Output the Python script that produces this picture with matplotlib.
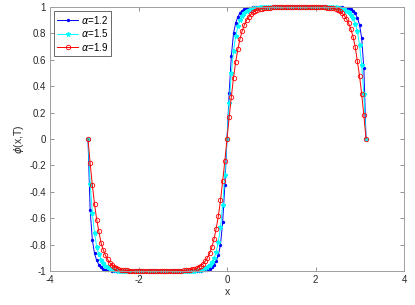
"""
phi(x,T) profiles for three fractional orders alpha
"""

import numpy as np
import matplotlib
matplotlib.use('Agg')
import matplotlib.pyplot as plt

plt.rcParams['font.family'] = ['Liberation Sans', 'DejaVu Sans']

# grid: 129 points on [-pi, pi]
x = np.linspace(-np.pi, np.pi, 129)

labels = [r'$\alpha$=1.2', r'$\alpha$=1.5', r'$\alpha$=1.9']

phi_12 = [
    0.0, -0.54, -0.765, -0.866, -0.92, -0.952, -0.97, -0.982, -0.989, -0.993,
    -0.996, -0.998, -0.999, -1.0, -1.0, -1.0, -1.0, -1.0, -1.0, -1.0,
    -1.0, -1.0, -1.0, -1.0, -1.0, -1.0, -1.0, -1.0, -1.0, -1.0,
    -1.0, -1.0, -1.0, -1.0, -1.0, -1.0, -1.0, -1.0, -1.0, -1.0,
    -1.0, -1.0, -1.0, -1.0, -1.0, -1.0, -1.0, -1.0, -1.0, -1.0, -1.0,
    -0.999, -0.998, -0.996, -0.994, -0.99, -0.983, -0.972, -0.955, -0.925, -0.88,
    -0.80, -0.63, -0.35,
    0.0,
    0.35, 0.63, 0.80, 0.88, 0.925, 0.955, 0.972, 0.983, 0.99, 0.994,
    0.996, 0.998, 0.999, 1.0, 1.0, 1.0, 1.0, 1.0, 1.0, 1.0,
    1.0, 1.0, 1.0, 1.0, 1.0, 1.0, 1.0, 1.0, 1.0, 1.0,
    1.0, 1.0, 1.0, 1.0, 1.0, 1.0, 1.0, 1.0, 1.0, 1.0,
    1.0, 1.0, 1.0, 1.0, 1.0, 1.0, 1.0, 1.0, 1.0, 1.0, 1.0,
    0.999, 0.998, 0.996, 0.993, 0.989, 0.982, 0.97, 0.952, 0.92, 0.866,
    0.765, 0.535, 0.0,
]

phi_15 = [
    0.0, -0.34, -0.56, -0.715, -0.815, -0.875, -0.915, -0.942, -0.96, -0.973,
    -0.982, -0.988, -0.992, -0.995, -0.997, -0.998, -0.999, -1.0, -1.0, -1.0,
    -1.0, -1.0, -1.0, -1.0, -1.0, -1.0, -1.0, -1.0, -1.0, -1.0,
    -1.0, -1.0, -1.0, -1.0, -1.0, -1.0, -1.0, -1.0, -1.0, -1.0,
    -1.0, -1.0, -1.0, -1.0, -1.0, -1.0, -0.999, -0.999, -0.998, -0.997,
    -0.996, -0.994, -0.991, -0.987, -0.98, -0.971, -0.957, -0.935, -0.905, -0.855,
    -0.78, -0.67, -0.50, -0.27,
    0.0,
    0.27, 0.50, 0.67, 0.78, 0.855, 0.905, 0.935, 0.957, 0.971, 0.98,
    0.987, 0.991, 0.994, 0.996, 0.997, 0.998, 0.999, 0.999, 1.0, 1.0,
    1.0, 1.0, 1.0, 1.0, 1.0, 1.0, 1.0, 1.0, 1.0, 1.0,
    1.0, 1.0, 1.0, 1.0, 1.0, 1.0, 1.0, 1.0, 1.0, 1.0,
    1.0, 1.0, 1.0, 1.0, 1.0, 1.0, 1.0, 0.999, 0.998, 0.997,
    0.995, 0.992, 0.988, 0.982, 0.973, 0.96, 0.942, 0.915, 0.875, 0.815,
    0.715, 0.56, 0.34, 0.0,
]

phi_19 = [
    0.0, -0.184, -0.35, -0.49, -0.61, -0.70, -0.785, -0.84, -0.88, -0.912,
    -0.936, -0.954, -0.967, -0.977, -0.984, -0.989, -0.992, -0.995, -0.996, -0.997,
    -0.998, -1.0, -1.0, -1.0, -1.0, -1.0, -1.0, -1.0, -1.0,
    -1.0, -1.0, -1.0, -1.0, -1.0, -1.0, -1.0, -1.0, -1.0, -1.0,
    -0.999, -0.999, -0.998, -0.998, -0.997, -0.996, -0.995, -0.993, -0.991, -0.988,
    -0.984, -0.978, -0.97, -0.96, -0.945, -0.925, -0.90, -0.865, -0.82, -0.76,
    -0.68, -0.585, -0.465, -0.32, -0.165,
    0.0,
    0.165, 0.32, 0.465, 0.585, 0.68, 0.76, 0.82, 0.865, 0.90, 0.925,
    0.945, 0.96, 0.97, 0.978, 0.984, 0.988, 0.991, 0.993, 0.995, 0.996,
    0.997, 0.998, 0.998, 0.999, 0.999, 1.0, 1.0, 1.0, 1.0, 1.0,
    1.0, 1.0, 1.0, 1.0, 1.0, 1.0, 1.0, 1.0, 1.0, 1.0,
    1.0, 1.0, 1.0, 0.998, 0.997, 0.996, 0.995, 0.992, 0.989, 0.984,
    0.977, 0.967, 0.953, 0.935, 0.91, 0.876, 0.833, 0.776, 0.70, 0.59,
    0.48, 0.34, 0.18, 0.0,
]

fig = plt.figure(figsize=(4.15, 3.05), dpi=100)
ax = fig.add_axes([0.1205, 0.1115, 0.853, 0.8655])

ax.plot(x, phi_12, '-', color='blue', marker='.', markersize=2.8, lw=0.7,
        label=labels[0], clip_on=False)
ax.plot(x, phi_15, '-', color='cyan', marker='*', markersize=3.2, lw=0.7,
        label=labels[1], clip_on=False)
ax.plot(x, phi_19, '-', color='red', marker='o', markersize=3.2, lw=0.7,
        mfc='none', mew=0.6, label=labels[2], clip_on=False)

ax.set_xlim(-4, 4)
ax.set_ylim(-1, 1)
ax.set_xticks([-4, -2, 0, 2, 4])
ax.set_yticks(np.arange(-1, 1.01, 0.2))
ax.set_yticklabels(['-1', '-0.8', '-0.6', '-0.4', '-0.2', '0',
                    '0.2', '0.4', '0.6', '0.8', '1'])
ax.set_xticklabels(['-4', '-2', '0', '2', '4'])

for s in ax.spines.values():
    s.set_color('#a0a0a0')
    s.set_linewidth(0.7)
ax.tick_params(direction='in', length=3, width=0.6, color='#808080',
               labelsize=7, labelcolor='#262626', top=True, right=True, pad=3)

ax.set_xlabel('x', fontsize=7.5, color='#262626', labelpad=1)
ax.set_ylabel(r'$\phi$(x,T)', fontsize=7.5, color='#262626', labelpad=2)

leg = ax.legend(loc='upper left', fontsize=7, frameon=True, fancybox=False,
                edgecolor='#262626', borderpad=0.3, labelspacing=0.15,
                handlelength=2.2, handletextpad=0.3, borderaxespad=0.4)
leg.get_frame().set_linewidth(0.6)

fig.savefig('out.png', dpi=100, facecolor='white')
